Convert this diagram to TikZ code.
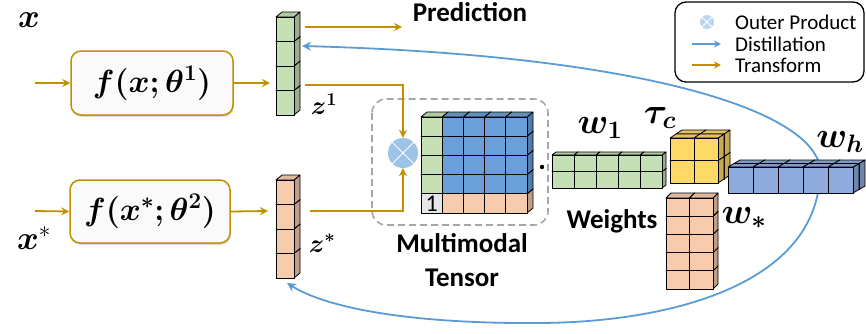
\RequirePackage{fix-cm}
\documentclass[tikz,border=0pt]{standalone}
\usepackage{amsmath,bm}
\usepackage{fontspec}
\setsansfont{Carlito}
\usetikzlibrary{arrows.meta,shadows}
\definecolor{gold}{HTML}{BF9000}
\definecolor{distblue}{HTML}{5B9BD5}
\definecolor{circblue}{HTML}{9DC3E6}
\definecolor{cgreen}{HTML}{C5E0B4}
\definecolor{cpeach}{HTML}{F8CBAD}
\definecolor{cblue}{HTML}{6A9FDA}
\definecolor{cyellow}{HTML}{FFD966}
\definecolor{cwh}{HTML}{8FAADC}
\definecolor{cgray}{HTML}{E7E6E6}
% x y w h dx dy colour
\newcommand\mycube[7]{%
  \filldraw[fill=#7!78!black,cubeline] (#1+#3,#2) -- ++(#5,-#6) -- ++(0,#4) -- ++(-#5,#6) -- cycle;
  \filldraw[fill=#7!90!black,cubeline] (#1,#2) -- ++(#5,-#6) -- ++(#3,0) -- ++(-#5,#6) -- cycle;
  \filldraw[fill=#7,cubeline] (#1,#2) rectangle ++(#3,#4);
}
\begin{document}
\begin{tikzpicture}[x=1pt,y=-1pt,
  cubeline/.style={draw=black,line width=0.8pt,line join=round},
  goldarr/.style={draw=gold,line width=1.8pt,-{Stealth[length=8pt,width=8pt]}},
  distline/.style={draw=distblue,line width=1.8pt},
  fbox/.style={draw=gold,line width=1.5pt,rounded corners=10pt,fill=gray!4,
    minimum width=162pt,minimum height=64pt,inner sep=0pt,
    drop shadow={opacity=0.25,shadow xshift=1pt,shadow yshift=-2pt}},
  bigmath/.style={font=\fontsize{33}{35}\selectfont,inner sep=0pt},
  wmath/.style={font=\fontsize{36}{38}\selectfont,inner sep=0pt},
  zmath/.style={font=\fontsize{26}{28}\selectfont,inner sep=0pt},
  lbl/.style={font=\sffamily\bfseries\fontsize{27}{29}\selectfont,inner sep=0pt},
  legtxt/.style={font=\sffamily\fontsize{21}{23}\selectfont,anchor=west,inner sep=0pt}]
\useasboundingbox (0,0) rectangle (866,333);

% ---------- distillation curve (behind everything) ----------
\coordinate (dtop) at (302,46);
\coordinate (dbot) at (287,283);
\coordinate (dright) at (820,168);
\draw[distline,-{Stealth[length=9pt,width=9pt]}] (dright) .. controls (812,110) and (640,55) .. (dtop);
\draw[distline,-{Stealth[length=9pt,width=9pt]}] (dright) .. controls (822,280) and (680,322) .. (540,323)
   .. controls (420,324) and (330,310) .. (dbot);

% ---------- inputs and encoders ----------
\node[bigmath] (xin) at (29,20) {$\bm{x}$};
\node[bigmath] (xsin) at (34,238) {$\bm{x}^{*}$};
\node[fbox] (f1) at (152,83) {\fontsize{32}{34}\selectfont$\bm{f(x;\theta^{1})}$};
\node[fbox,minimum width=160pt,minimum height=63pt] (f2) at (150,211.5) {\fontsize{32}{34}\selectfont$\bm{f(x^{*};\theta^{2})}$};
\coordinate (in1) at (35,83);
\coordinate (in2) at (35,211);
\coordinate (z1in) at (270,83);
\coordinate (z2in) at (268,211);
\draw[goldarr] (in1) -- (f1.west);
\draw[goldarr] (in2) -- (f2.west);
\draw[goldarr] (f1.east) -- (z1in);
\draw[goldarr] (f2.east) -- (z2in);

% ---------- z vectors ----------
\foreach \r in {3,2,1,0} {\mycube{276}{17+\r*24.5}{18}{24.5}{6}{5}{cgreen}}
\foreach \r in {3,2,1,0} {\mycube{276}{180+\r*24.5}{18}{24.5}{6}{5}{cpeach}}
\node[zmath] (z1lbl) at (324,104) {$\bm{z^{1}}$};
\node[zmath] (z2lbl) at (322,243) {$\bm{z^{*}}$};

% prediction
\coordinate (predfrom) at (305,27);
\node[lbl] (pred) at (470,12) {Prediction};
\coordinate (predto) at (402,27);
\draw[goldarr] (predfrom) -- (predto);

% ---------- multimodal tensor ----------
\draw[gray!70,line width=1.6pt,dash pattern=on 7pt off 4pt,rounded corners=14pt] (372,99) rectangle (548,225);
\node[circle,fill=circblue,minimum size=30pt,inner sep=0pt] (op) at (403,153) {};
\draw[white,line width=1pt] (op.north west) -- (op.south east) (op.north east) -- (op.south west);
\coordinate (z1out) at (305,85);
\coordinate (z2out) at (310,211);
\draw[goldarr] (z1out) -| (op.north);
\draw[goldarr] (z2out) -| (op.south);

% bottom row
\mycube{421}{193.8}{21.2}{19.2}{6}{5}{cgray}
\foreach \c in {1,...,4} {\mycube{421+\c*21.2}{193.8}{21.2}{19.2}{6}{5}{cpeach}}
\foreach \r in {3,2,1,0} {
  \mycube{421}{117+\r*19.2}{21.2}{19.2}{6}{5}{cgreen}
  \foreach \c in {1,...,4} {\mycube{421+\c*21.2}{117+\r*19.2}{21.2}{19.2}{6}{5}{cblue}}
}
\node[font=\sffamily\fontsize{24}{26}\selectfont,inner sep=0pt] (one) at (431.6,204) {1};
\node[lbl] (mm1) at (462,243) {Multimodal};
\node[lbl] (mm2) at (462,278) {Tensor};
\fill (542,167) circle (2.2pt);

% ---------- weights ----------
% w1 (green, 2 x 5)
\foreach \r in {1,0} {\foreach \c in {0,...,4} {\mycube{552+\c*22}{155+\r*16.5}{22}{16.5}{4}{3}{cgreen}}}
% tau_c (yellow 2x2x2)
\foreach \r in {1,0} {\foreach \c in {0,1} {\mycube{676+\c*24}{134+\r*22.5}{24}{22.5}{6}{4}{cyellow}}}
\foreach \r in {1,0} {\foreach \c in {0,1} {\mycube{670+\c*24}{138+\r*22.5}{24}{22.5}{6}{4}{cyellow}}}
% w_* (peach 5 x 2)
\foreach \r in {4,3,2,1,0} {\foreach \c in {0,1} {\mycube{666+\c*23.5}{198+\r*18.2}{23.5}{18.2}{5}{5}{cpeach}}}
% w_h (blue, 1 x 5 x 2)
\foreach \c in {0,...,4} {\mycube{734+\c*25}{163.5}{25}{26}{6}{3.5}{cwh}}
\foreach \c in {0,...,4} {\mycube{728+\c*25}{167}{25}{26}{6}{3.5}{cwh}}

\node[wmath] (w1) at (600,128) {$\bm{w_{1}}$};
\node[wmath] (tau) at (660,118) {$\bm{\tau_{c}}$};
\node[wmath] (wh) at (840,142) {$\bm{w_{h}}$};
\node[wmath] (ws) at (744,218) {$\bm{w_{*}}$};
\node[lbl] (weights) at (612,221) {Weights};

% ---------- legend ----------
\draw[black,line width=1.3pt,rounded corners=11pt] (675,2) rectangle (864,82);
\node[circle,fill=circblue!70,minimum size=14pt,inner sep=0pt] (lop) at (707,22) {};
\draw[white,line width=0.8pt] (lop.north west) -- (lop.south east) (lop.north east) -- (lop.south west);
\coordinate (ld1) at (692,44);
\coordinate (ld2) at (721,44);
\coordinate (lt1) at (692,65);
\coordinate (lt2) at (721,65);
\draw[distline,line width=1.4pt,-{Stealth[length=7pt,width=7pt]}] (ld1) -- (ld2);
\draw[goldarr,line width=1.4pt,-{Stealth[length=7pt,width=7pt]}] (lt1) -- (lt2);
\node[legtxt] (lg1) at (735,22) {Outer Product};
\node[legtxt] (lg2) at (735,44) {Distillation};
\node[legtxt] (lg3) at (735,65) {Transform};
\end{tikzpicture}
\end{document}
